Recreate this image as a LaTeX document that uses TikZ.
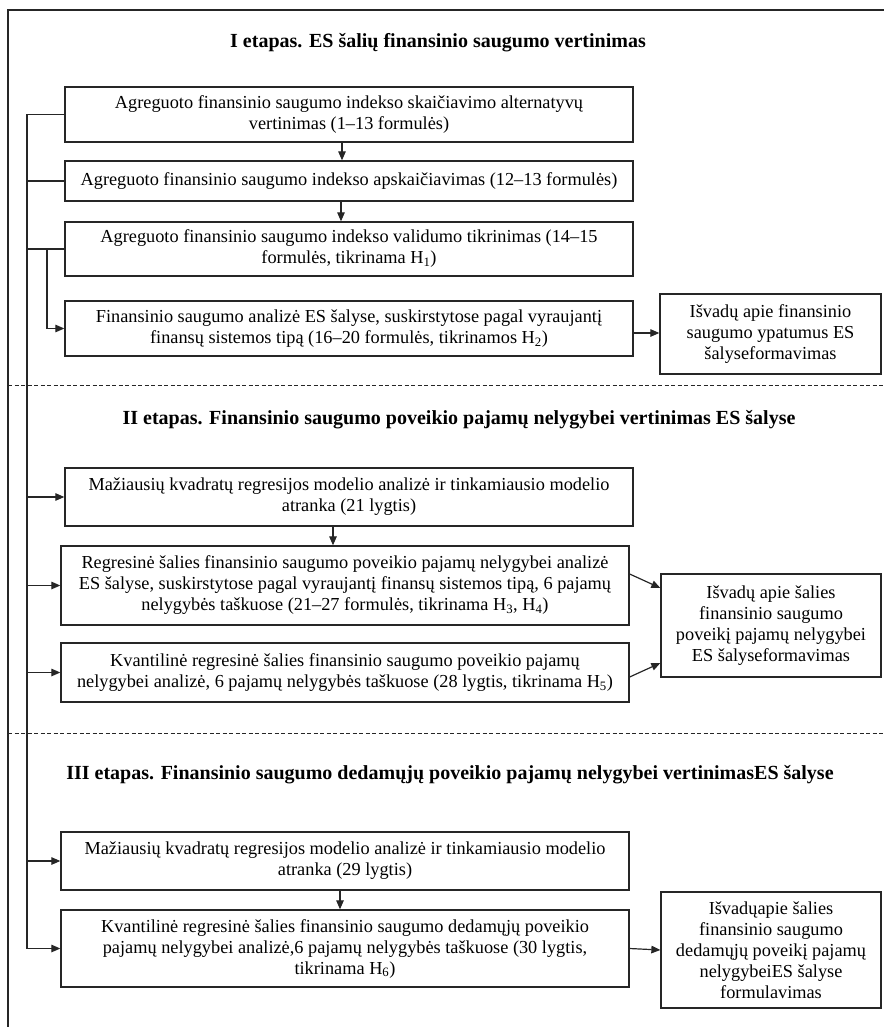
\documentclass[tikz,border=0pt]{standalone}
\usepackage{fontspec}
\setmainfont{Liberation Serif}
\usetikzlibrary{arrows.meta,calc}
\begin{document}
\begin{tikzpicture}[x=1pt,y=-1pt,
  every node/.style={font=\fontsize{18.3}{21}\selectfont},
  box/.style={draw=black!85, line width=1.3pt, inner sep=0pt, align=center},
  ttl/.style={font=\fontsize{20}{22}\selectfont\bfseries},
  arr/.style={draw=black!85, line width=1.2pt, -{Triangle[length=9pt,width=7.5pt]}},
  ln/.style={draw=black!85, line width=1.2pt},
  dsh/.style={draw=black!85, line width=1pt, dash pattern=on 4pt off 2.5pt}]
\useasboundingbox (0,0) rectangle (883,1027);
% frame
\draw[draw=black!85, line width=1.4pt] (890,10) -- (8,10) -- (8,1035);
% titles
\node[ttl] (t1) at (438,43) {I etapas. ES šalių finansinio saugumo vertinimas};
\node[ttl] (t2) at (459,420) {II etapas. Finansinio saugumo poveikio pajamų nelygybei vertinimas ES šalyse};
\node[ttl] (t3) at (450,775) {III etapas. Finansinio saugumo dedamųjų poveikio pajamų nelygybei vertinimasES šalyse};
% dashed separators
\coordinate (d1a) at (8,385); \coordinate (d1b) at (885,385);
\coordinate (d2a) at (8,733); \coordinate (d2b) at (885,733);
\draw[dsh] (d1a) -- (d1b);
\draw[dsh] (d2a) -- (d2b);
% stage I
\node[box, minimum width=568, minimum height=55] (b11) at (349,114.5)
  {Agreguoto finansinio saugumo indekso skaičiavimo alternatyvų\\vertinimas (1–13 formulės)};
\node[box, minimum width=568, minimum height=40] (b12) at (349,181)
  {Agreguoto finansinio saugumo indekso apskaičiavimas (12–13 formulės)};
\node[box, minimum width=568, minimum height=54] (b13) at (349,249)
  {Agreguoto finansinio saugumo indekso validumo tikrinimas (14–15\\formulės, tikrinama H\textsubscript{1})};
\node[box, minimum width=568, minimum height=55] (b14) at (349,328.5)
  {Finansinio saugumo analizė ES šalyse, suskirstytose pagal vyraujantį\\finansų sistemos tipą (16–20 formulės, tikrinamos H\textsubscript{2})};
\node[box, minimum width=221, minimum height=80] (r1) at (770.5,334)
  {Išvadų apie finansinio\\saugumo ypatumus ES\\šalyseformavimas};
% stage II
\node[box, minimum width=568, minimum height=58] (b21) at (349,497)
  {Mažiausių kvadratų regresijos modelio analizė ir tinkamiausio modelio\\atranka (21 lygtis)};
\node[box, minimum width=568, minimum height=79] (b22) at (345,585.5)
  {Regresinė šalies finansinio saugumo poveikio pajamų nelygybei analizė\\ES šalyse, suskirstytose pagal vyraujantį finansų sistemos tipą, 6 pajamų\\nelygybės taškuose (21–27 formulės, tikrinama H\textsubscript{3}, H\textsubscript{4})};
\node[box, minimum width=568, minimum height=59] (b23) at (345,672.5)
  {Kvantilinė regresinė šalies finansinio saugumo poveikio pajamų\\nelygybei analizė, 6 pajamų nelygybės taškuose (28 lygtis, tikrinama H\textsubscript{5})};
\node[box, minimum width=220, minimum height=103] (r2) at (771,625.5)
  {Išvadų apie šalies\\finansinio saugumo\\poveikį pajamų nelygybei\\ES šalyseformavimas};
% stage III
\node[box, minimum width=568, minimum height=58] (b31) at (345,861)
  {Mažiausių kvadratų regresijos modelio analizė ir tinkamiausio modelio\\atranka (29 lygtis)};
\node[box, minimum width=568, minimum height=77] (b32) at (345,948.5)
  {Kvantilinė regresinė šalies finansinio saugumo dedamųjų poveikio\\pajamų nelygybei analizė,6 pajamų nelygybės taškuose (30 lygtis,\\tikrinama H\textsubscript{6})};
\node[box, minimum width=220, minimum height=116] (r3) at (771,950)
  {Išvadųapie šalies\\finansinio saugumo\\dedamųjų poveikį pajamų\\nelygybeiES šalyse\\formulavimas};
% bus lines
\coordinate (busx) at (27,0);
\coordinate (brx) at (47,0);
\draw[ln] (b11.west) -- (b11.west -| busx) -- (b32.west -| busx);
\draw[ln] (b12.west -| busx) -- (b12.west);
\draw[ln] (b13.west -| busx) -- (b13.west);
\draw[arr] (b13.west -| brx) -- (b14.west -| brx) -- (b14.west);
\draw[arr] (b21.west -| busx) -- (b21.west);
\draw[arr] (b22.west -| busx) -- (b22.west);
\draw[arr] (b23.west -| busx) -- (b23.west);
\draw[arr] (b31.west -| busx) -- (b31.west);
\draw[arr] (b32.west -| busx) -- (b32.west);
% vertical flow arrows
\draw[arr] ([xshift=-7pt]b11.south) -- ([xshift=-7pt]b12.north);
\draw[arr] ([xshift=-8pt]b12.south) -- ([xshift=-8pt]b13.north);
\draw[arr] ([xshift=-16pt]b21.south) -- ([xshift=-12pt]b22.north);
\draw[arr] ([xshift=-5pt]b31.south) -- ([xshift=-5pt]b32.north);
% to conclusions
\draw[arr] ([yshift=-4.5pt]b14.east) -- ([yshift=1pt]r1.west);
\draw[arr] ([yshift=11.5pt]b22.east) -- ([yshift=37.5pt]r2.west);
\draw[arr] ([yshift=-4.5pt]b23.east) -- ([yshift=-37.5pt]r2.west);
\draw[arr] (b32.east) -- (r3.west);
\end{tikzpicture}
\end{document}
